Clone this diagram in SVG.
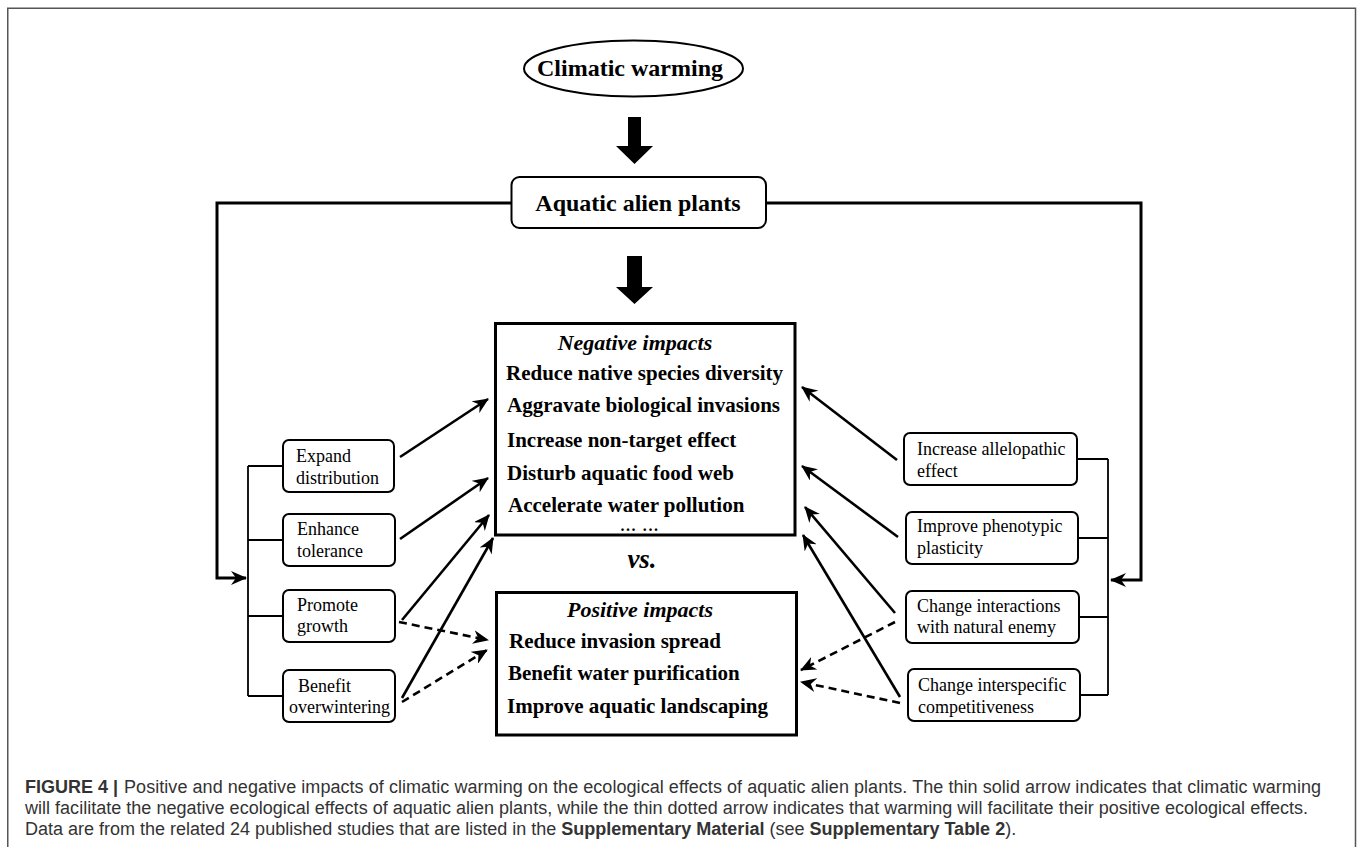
<svg xmlns="http://www.w3.org/2000/svg" width="1358" height="847" viewBox="0 0 1358 847">
<style>
.bg{fill:#fff}
.frame{fill:none;stroke:#555;stroke-width:1.5}
.node{fill:#fff;stroke:#000;stroke-width:2}
.big{fill:#fff;stroke:#000;stroke-width:3}
.t18{font-family:"Liberation Serif","Times New Roman",serif;font-size:18px;fill:#000}
.b24{font-family:"Liberation Serif","Times New Roman",serif;font-size:24px;font-weight:bold;fill:#000}
.b21{font-family:"Liberation Serif","Times New Roman",serif;font-size:21px;font-weight:bold;fill:#000}
.bi{font-family:"Liberation Serif","Times New Roman",serif;font-size:22px;font-weight:bold;font-style:italic;fill:#000}
.thick{fill:none;stroke:#000;stroke-width:3}
.bus{fill:none;stroke:#000;stroke-width:1.8}
.sol{fill:none;stroke:#000;stroke-width:2.6}
.dash{fill:none;stroke:#000;stroke-width:2.6;stroke-dasharray:8 5}
.cap{font-family:"Liberation Sans",Arial,sans-serif;font-size:18px;fill:#333}
</style>
<defs>
<marker id="ah" viewBox="0 0 16 14" refX="15" refY="7" markerWidth="16" markerHeight="14" markerUnits="userSpaceOnUse" orient="auto">
<path d="M0,0 L16,7 L0,14 L5,7 Z" fill="#000"/>
</marker>
</defs>
<rect class="bg" x="0" y="0" width="1358" height="847"/>
<path class="frame" d="M7.75,847 V8.25 H1355.5 V847"/>

<g id="connectors">
<path d="M628,117 H641 V146 H653 L634.5,164 L616,146 H628 Z" fill="#000"/>
<path d="M627,256 H642 V287 H653 L634.5,304 L616,287 H627 Z" fill="#000"/>
<path class="thick" d="M511,203 H217 V578 H246" marker-end="url(#ah)"/>
<path class="thick" d="M766,203 H1141 V580 H1111" marker-end="url(#ah)"/>
<path class="bus" d="M248,466 V696 M248,466 H283 M248,540 H283 M248,616 H283 M248,696 H283"/>
<path class="bus" d="M1108,459 V695 M1077,459 H1108 M1078,538 H1108 M1079,617 H1108 M1080,695 H1108"/>
<path class="sol" d="M400,457 L488,399" marker-end="url(#ah)"/>
<path class="sol" d="M400,539 L488,478" marker-end="url(#ah)"/>
<path class="sol" d="M402,620 L489,515" marker-end="url(#ah)"/>
<path class="sol" d="M402,698 L493,538" marker-end="url(#ah)"/>
<path class="dash" d="M399,622 L488,640" marker-end="url(#ah)"/>
<path class="dash" d="M402,702 L487,650" marker-end="url(#ah)"/>
<path class="sol" d="M897,460 L802,387" marker-end="url(#ah)"/>
<path class="sol" d="M898,537 L802,466" marker-end="url(#ah)"/>
<path class="sol" d="M895,613 L805,507" marker-end="url(#ah)"/>
<path class="sol" d="M900,697 L803,535" marker-end="url(#ah)"/>
<path class="dash" d="M895,622 L801,670" marker-end="url(#ah)"/>
<path class="dash" d="M900,703 L801,682" marker-end="url(#ah)"/>
</g>

<g id="climatic-warming">
<ellipse class="node" cx="633.5" cy="68.5" rx="109.5" ry="28"/>
<text class="b24" x="630" y="76" text-anchor="middle">Climatic warming</text>
</g>

<g id="aquatic-alien-plants">
<rect class="node" x="511.5" y="177" width="254.5" height="51" rx="8"/>
<text class="b24" x="638" y="211" text-anchor="middle">Aquatic alien plants</text>
</g>

<g id="negative-impacts">
<rect class="big" x="495.5" y="323.5" width="299.5" height="211.5"/>
<text class="bi" x="635" y="350" text-anchor="middle">Negative impacts</text>
<text class="b21" x="506" y="380">Reduce native species diversity</text>
<text class="b21" x="507" y="412">Aggravate biological invasions</text>
<text class="b21" x="507" y="447">Increase non-target effect</text>
<text class="b21" x="507" y="480">Disturb aquatic food web</text>
<text class="b21" x="508" y="512">Accelerate water pollution</text>
<text x="640" y="531" text-anchor="middle" font-family="Liberation Serif, Times New Roman, serif" font-size="16" font-weight="bold" letter-spacing="1.6">... ...</text>
</g>

<g id="vs">
<text x="642" y="568" text-anchor="middle" font-family="Liberation Serif, Times New Roman, serif" font-size="27" font-weight="bold" font-style="italic">vs.</text>
</g>

<g id="positive-impacts">
<rect class="big" x="496.5" y="592.5" width="300" height="142.5"/>
<text class="bi" x="640" y="617" text-anchor="middle">Positive impacts</text>
<text class="b21" x="509" y="648">Reduce invasion spread</text>
<text class="b21" x="508" y="680">Benefit water purification</text>
<text class="b21" x="507" y="713">Improve aquatic landscaping</text>
</g>

<g id="expand-distribution">
<rect class="node" x="283" y="440" width="111" height="52" rx="6"/>
<text class="t18" x="296" y="462">Expand</text>
<text class="t18" x="296" y="484">distribution</text>
</g>
<g id="enhance-tolerance">
<rect class="node" x="283" y="514" width="112" height="52" rx="6"/>
<text class="t18" x="297" y="535">Enhance</text>
<text class="t18" x="297" y="557">tolerance</text>
</g>
<g id="promote-growth">
<rect class="node" x="283" y="590" width="112" height="52" rx="6"/>
<text class="t18" x="297" y="611">Promote</text>
<text class="t18" x="297" y="632">growth</text>
</g>
<g id="benefit-overwintering">
<rect class="node" x="283" y="670" width="112" height="52" rx="6"/>
<text class="t18" x="298" y="692">Benefit</text>
<text class="t18" x="289" y="713">overwintering</text>
</g>

<g id="increase-allelopathic-effect">
<rect class="node" x="904" y="433" width="173" height="52" rx="6"/>
<text class="t18" x="917" y="455">Increase allelopathic</text>
<text class="t18" x="917" y="477">effect</text>
</g>
<g id="improve-phenotypic-plasticity">
<rect class="node" x="906" y="512" width="172" height="52" rx="6"/>
<text class="t18" x="917" y="532">Improve phenotypic</text>
<text class="t18" x="917" y="554">plasticity</text>
</g>
<g id="change-interactions">
<rect class="node" x="906" y="591" width="173" height="52" rx="6"/>
<text class="t18" x="917" y="612">Change interactions</text>
<text class="t18" x="917" y="633">with natural enemy</text>
</g>
<g id="change-interspecific">
<rect class="node" x="908" y="669" width="172" height="52" rx="6"/>
<text class="t18" x="918" y="691">Change interspecific</text>
<text class="t18" x="918" y="713">competitiveness</text>
</g>

<g id="caption">
<text class="cap" x="25" y="793" font-weight="bold">FIGURE 4 |</text>
<text class="cap" x="124" y="793" textLength="1197" lengthAdjust="spacing">Positive and negative impacts of climatic warming on the ecological effects of aquatic alien plants. The thin solid arrow indicates that climatic warming</text>
<text class="cap" x="25" y="814" textLength="1283" lengthAdjust="spacing">will facilitate the negative ecological effects of aquatic alien plants, while the thin dotted arrow indicates that warming will facilitate their positive ecological effects.</text>
<text class="cap" x="25" y="835">Data are from the related 24 published studies that are listed in the <tspan font-weight="bold">Supplementary Material</tspan> (see <tspan font-weight="bold">Supplementary Table 2</tspan>).</text>
</g>
</svg>
